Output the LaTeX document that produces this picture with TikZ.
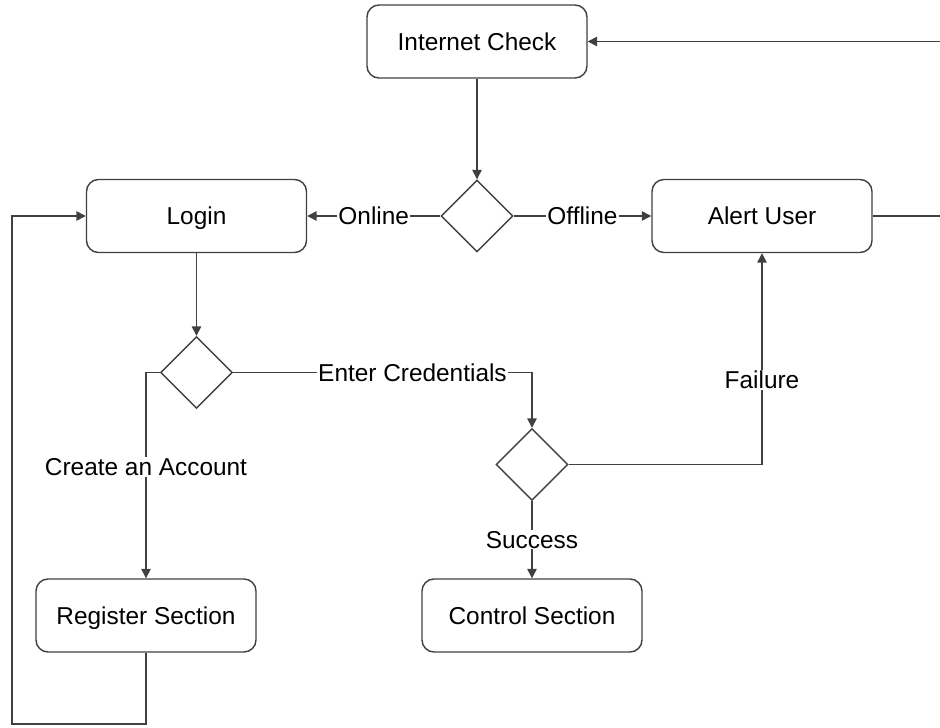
\documentclass[tikz,border=0pt]{standalone}
\usepackage{fontspec}
\setmainfont{Liberation Sans}
\usetikzlibrary{shapes.geometric,arrows.meta}

\begin{document}
\begin{tikzpicture}[x=0.75pt,y=-0.75pt,
  every node/.style={font=\fontsize{18.3}{22}\selectfont},
  box/.style={draw=black!75,line width=1.05pt,rounded corners=9pt,minimum width=165pt,minimum height=54.75pt,text height=16pt,text depth=2.9pt},
  choice/.style={draw=black!75,line width=1.05pt,diamond,aspect=1,inner sep=0pt,minimum width=54pt,minimum height=54pt},
  lbl/.style={fill=white,inner sep=0.8pt},
  flow/.style={draw=black!75,line width=1.05pt,-{Triangle[length=7pt,width=7pt]}}]
\useasboundingbox (0,0) rectangle (940,728);
\clip (0,0) rectangle (940,728);
% blocks
\node[box] (check) at (477,41.5) {Internet Check};
\node[choice] (net) at (477,216) {};
\node[box] (login) at (196.5,216) {Login};
\node[box] (alert) at (762,216) {Alert User};
\node[choice] (way) at (196.5,372.5) {};
\node[choice] (cred) at (532,464.5) {};
\node[box] (register) at (146,615.5) {Register Section};
\node[box] (control) at (532,615.5) {Control Section};
\coordinate (rim) at (948,0);
\coordinate (back) at (12,724);
% connections
\draw[flow] (check) -- (net);
\draw[flow] (net) -- node[lbl] {Online} (login);
\draw[flow] (net) -- node[lbl] {Offline} (alert);
\draw[flow] (alert.east) -- (alert.east -| rim) |- (check.east);
\draw[flow] (login) -- (way);
\draw[flow] (way.east) -| node[lbl,pos=0.3] {Enter Credentials} (cred.north);
\draw[flow] (cred.east) -| node[lbl,pos=0.7] {Failure} (alert.south);
\draw[flow] (cred) -- node[lbl] {Success} (control);
\draw[flow] (way.west) -| node[lbl,pos=0.73] {Create an Account} (register.north);
\draw[flow] (register.south) |- (back) |- (login.west);
\end{tikzpicture}
\end{document}
